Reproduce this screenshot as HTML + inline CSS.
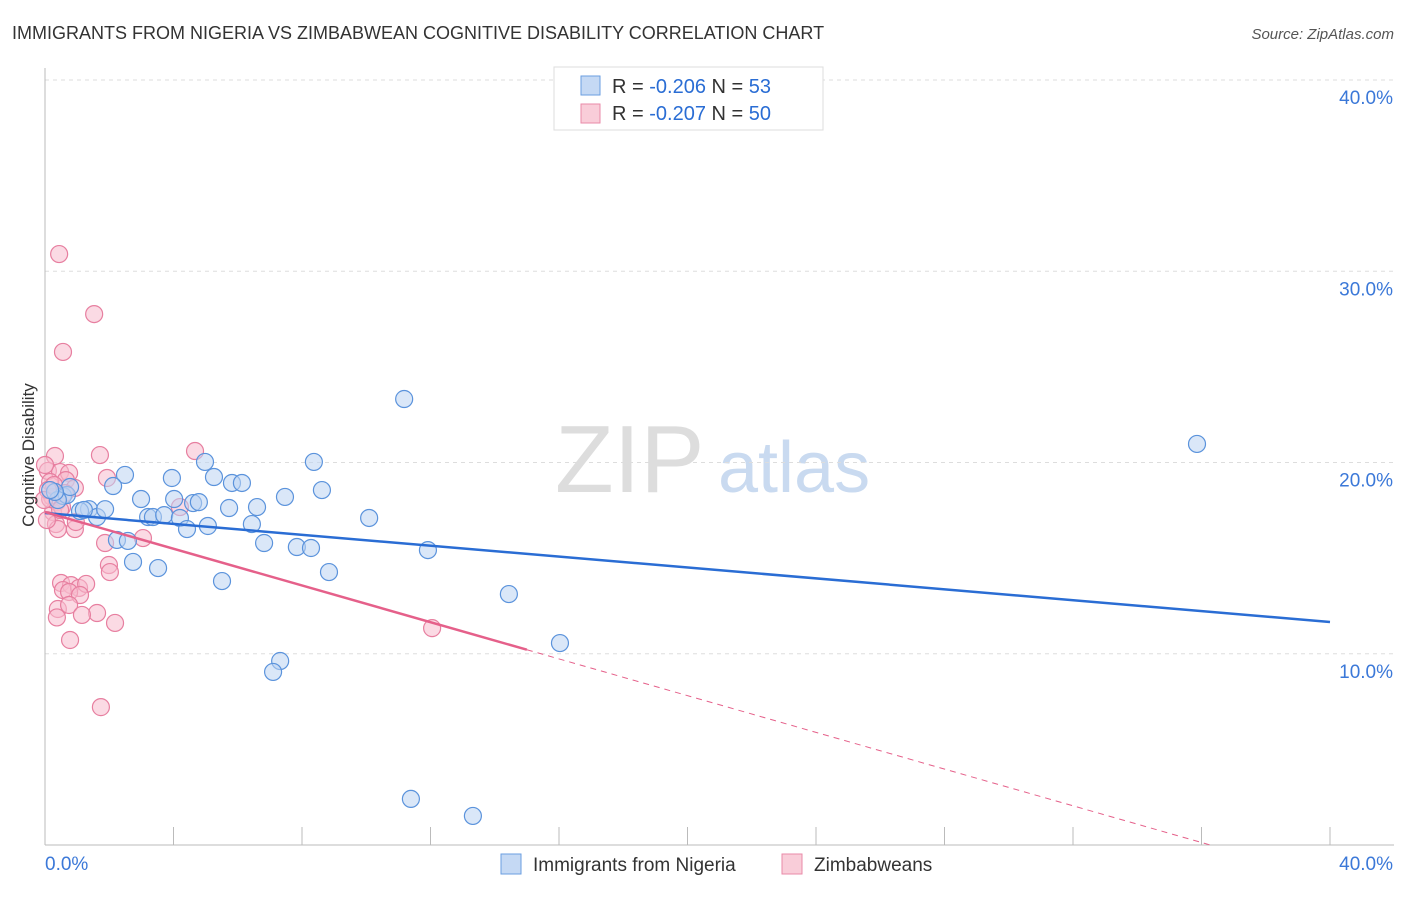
<!DOCTYPE html>
<html><head><meta charset="utf-8"><style>
body{margin:0;background:#fff;font-family:"Liberation Sans",sans-serif}
svg text{font-family:"Liberation Sans",sans-serif}
</style></head><body>
<svg id="c" width="1406" height="892">
<text x="12" y="39" font-size="18" fill="#333">IMMIGRANTS FROM NIGERIA VS ZIMBABWEAN COGNITIVE DISABILITY CORRELATION CHART</text>
<text x="1394" y="39" font-size="15" fill="#555" text-anchor="end" font-style="italic">Source: ZipAtlas.com</text>
<text x="555" y="492" font-size="96" fill="#ddd" font-family="Liberation Serif">ZIP</text>
<text x="718" y="492" font-size="72" fill="#c9daf0">atlas</text>
<g id="grid"></g><g id="axes"></g><g id="pts"></g><g id="lines"></g>
<text transform="translate(34,455) rotate(-90)" font-size="17" fill="#333" text-anchor="middle">Cognitive Disability</text>
<g>
<rect x="554" y="67" width="269" height="63" fill="#fff" stroke="#ddd"/>
<rect x="581" y="76" width="19" height="19" fill="#c5d9f4" stroke="#6a9ee0"/>
<rect x="581" y="104" width="19" height="19" fill="#f9cdd9" stroke="#e98aa8"/>
<text x="612" y="93" font-size="20" fill="#333">R = <tspan fill="#2a6dd4">-0.206</tspan>   N = <tspan fill="#2a6dd4">53</tspan></text>
<text x="612" y="120" font-size="20" fill="#333">R = <tspan fill="#2a6dd4">-0.207</tspan>   N = <tspan fill="#2a6dd4">50</tspan></text>
</g>
<g>
<rect x="501" y="854" width="20" height="20" fill="#c5d9f4" stroke="#6a9ee0"/>
<text x="533" y="871" font-size="19" fill="#333">Immigrants from Nigeria</text>
<rect x="782" y="854" width="20" height="20" fill="#f9cdd9" stroke="#e98aa8"/>
<text x="814" y="871" font-size="19" fill="#333">Zimbabweans</text>
</g>
</svg>
<script>
const yTicks=[10,20,30,40];
const yTickLabels=["10.0%","20.0%","30.0%","40.0%"];
const xTickLabels=["0.0%","40.0%"];
const nigeriaX=[2.49,2.12,2.99,3.95,4.98,5.26,5.82,6.13,4.02,4.61,4.79,5.73,6.60,7.47,8.37,8.62,10.09,11.18,35.86,3.21,3.36,3.71,4.20,4.42,5.07,6.44,6.82,7.84,8.28,8.84,11.92,14.44,16.03,5.51,7.32,7.10,11.39,13.32,2.24,2.58,2.74,3.52,1.37,1.62,1.87,1.09,1.21,0.56,0.68,0.78,0.40,0.31,0.16];
const nigeriaY=[19.35,18.77,18.09,19.19,20.03,19.24,18.93,18.93,18.09,17.88,17.93,17.62,17.67,18.20,20.03,18.56,17.10,23.32,20.97,17.15,17.15,17.25,17.10,16.52,16.68,16.78,15.79,15.58,15.53,14.27,15.42,13.12,10.56,13.80,9.62,9.05,2.41,1.52,15.95,15.90,14.80,14.48,17.56,17.15,17.56,17.46,17.52,18.25,18.30,18.72,18.04,18.46,18.56];
const zimX=[0.44,1.53,0.56,4.67,1.71,0.31,0.09,0.47,0.75,0.65,0.93,1.93,0,0.16,0.22,0.37,0.25,0.34,0.40,0.93,0.96,3.05,1.87,4.20,1.99,2.02,0.50,0.81,0.56,1.06,1.28,0.75,1.09,0.40,0.75,1.62,0.37,1.15,2.18,0.78,1.74,12.05,0.06,0.16,0.53,0.28,0.09,-0.03,0.62,0.47];
const zimY=[30.90,27.76,25.78,20.60,20.39,20.34,19.56,19.50,19.45,19.08,18.67,19.19,19.87,18.98,18.20,17.93,17.41,16.78,16.52,16.52,16.89,16.05,15.79,17.67,14.64,14.27,13.70,13.59,13.33,13.44,13.65,13.23,13.07,12.34,12.55,12.13,11.90,12.03,11.61,10.72,7.21,11.34,16.99,18.09,17.67,18.82,18.56,18.04,18.40,17.52];
const nigeriaTrend=[17.36,11.66];
const zimTrend=[17.41,-0.48];
const X=v=>45+v*32.125, Y=v=>845-v*19.125;
const NS="http://www.w3.org/2000/svg";
function mk(t,a,p){const e=document.createElementNS(NS,t);for(const k in a)e.setAttribute(k,a[k]);p.appendChild(e);return e;}
const grid=document.getElementById('grid'),axes=document.getElementById('axes'),pts=document.getElementById('pts'),lines=document.getElementById('lines');
yTicks.forEach((t,i)=>{
 const g=mk('line',{x1:45,x2:1394,y1:Y(t),y2:Y(t),stroke:'#ddd','stroke-dasharray':'4,4'},grid);
 
 
 const tx=mk('text',{x:1393,y:Y(t)+24,'font-size':19,fill:'#3b78d8','text-anchor':'end'},axes);
 tx.textContent=yTickLabels[i];
 
 
});
const ax=mk('line',{x1:45,x2:45,y1:68,y2:845,stroke:'#bbb'},axes);


const bx=mk('line',{x1:45,x2:1394,y1:845,y2:845,stroke:'#bbb'},axes);


for(let i=1;i<=10;i++){const t=mk('line',{x1:X(i*4),x2:X(i*4),y1:827,y2:845,stroke:'#bbb'},axes);
 
 }
xTickLabels.forEach((l,i)=>{const t=mk('text',{x:i?1393:45,y:870,'font-size':19,fill:'#3b78d8','text-anchor':i?'end':'start'},axes);t.textContent=l;
 
 });
function dots(xs,ys,fill,stroke,name){xs.forEach((x,i)=>{const c=mk('circle',{cx:X(x),cy:Y(ys[i]),r:8.5,fill:fill,'fill-opacity':0.55,stroke:stroke,'stroke-width':1.2},pts);
 
 });}
dots(zimX,zimY,'#f7bccd','#e77fa0','zimbabwean-point');
dots(nigeriaX,nigeriaY,'#bcd3f2','#5b93dc','nigeria-point');
const bl=mk('line',{x1:X(0),y1:Y(nigeriaTrend[0]),x2:X(40),y2:Y(nigeriaTrend[1]),stroke:'#2a6dd4','stroke-width':2.5},lines);


const pz=v=>zimTrend[0]+zimTrend[1]*v, xEnd=-zimTrend[0]/zimTrend[1];
const pl=mk('line',{x1:X(0),y1:Y(pz(0)),x2:X(15),y2:Y(pz(15)),stroke:'#e5608a','stroke-width':2.5},lines);


const pd=mk('line',{x1:X(15),y1:Y(pz(15)),x2:X(xEnd),y2:Y(0),stroke:'#e5608a','stroke-width':1,'stroke-dasharray':'6,5'},lines);


</script>
</body></html>
